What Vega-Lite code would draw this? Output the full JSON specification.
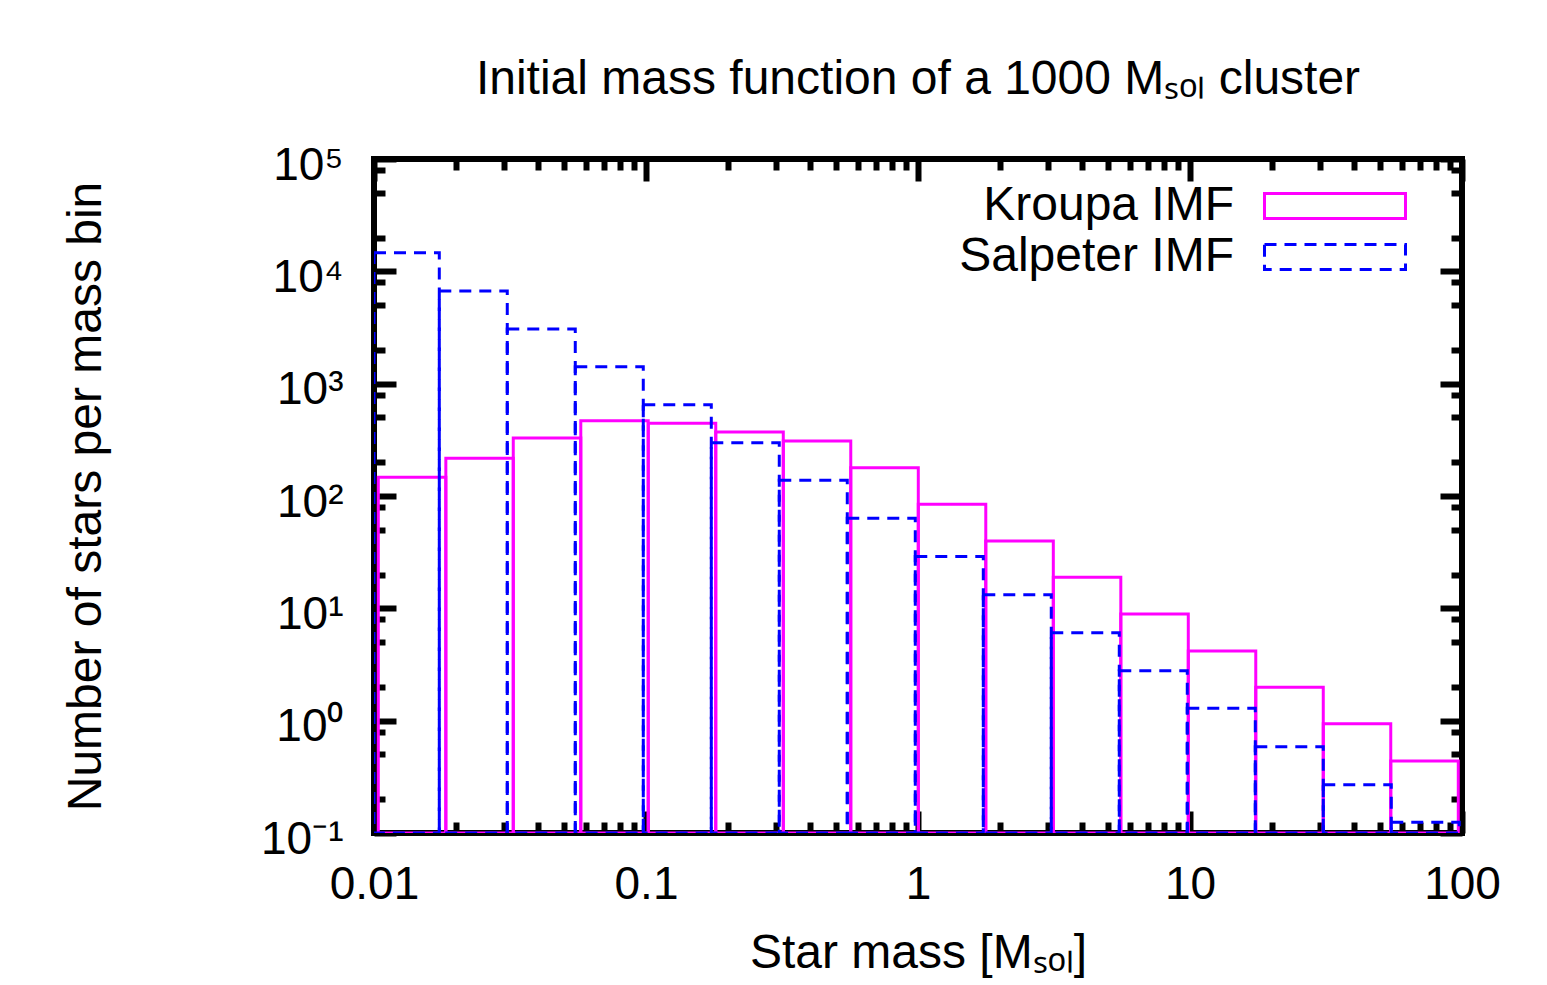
{
  "$schema": "https://vega.github.io/schema/vega-lite/v6.json",
  "autosize": {"type": "none"},
  "width": 1088,
  "height": 674,
  "padding": {"left": 374, "top": 159, "right": 85, "bottom": 152},
  "background": "white",
  "config": {
    "font": "Liberation Sans",
    "view": {"stroke": "black", "strokeWidth": 6},
    "axis": {
      "domain": false,
      "grid": false,
      "tickColor": "black",
      "tickWidth": 6,
      "labelFontSize": 46,
      "labelColor": "black",
      "titleFontSize": 48,
      "titleFontWeight": "normal",
      "titleColor": "black",
      "labelOverlap": false,
      "labelFlush": false
    }
  },
  "title": {
    "text": "Initial mass function of a 1000 Mₛₒₗ cluster",
    "fontSize": 48,
    "fontWeight": "normal",
    "anchor": "middle",
    "offset": 0,
    "baseline": "alphabetic",
    "color": "black"
  },
  "data": {
    "values": [
      {"imf": "Kroupa IMF", "lo": 0.01037, "hi": 0.01837, "n": 146.6},
      {"imf": "Kroupa IMF", "lo": 0.01837, "hi": 0.03251, "n": 216.6},
      {"imf": "Kroupa IMF", "lo": 0.03251, "hi": 0.05758, "n": 328},
      {"imf": "Kroupa IMF", "lo": 0.05758, "hi": 0.1019, "n": 468},
      {"imf": "Kroupa IMF", "lo": 0.1019, "hi": 0.1805, "n": 444},
      {"imf": "Kroupa IMF", "lo": 0.1805, "hi": 0.3197, "n": 371},
      {"imf": "Kroupa IMF", "lo": 0.3197, "hi": 0.566, "n": 309},
      {"imf": "Kroupa IMF", "lo": 0.566, "hi": 1.0025, "n": 178.6},
      {"imf": "Kroupa IMF", "lo": 1.0025, "hi": 1.775, "n": 84.3},
      {"imf": "Kroupa IMF", "lo": 1.775, "hi": 3.144, "n": 39.7},
      {"imf": "Kroupa IMF", "lo": 3.144, "hi": 5.567, "n": 18.9},
      {"imf": "Kroupa IMF", "lo": 5.567, "hi": 9.856, "n": 8.9},
      {"imf": "Kroupa IMF", "lo": 9.856, "hi": 17.45, "n": 4.17},
      {"imf": "Kroupa IMF", "lo": 17.45, "hi": 30.9, "n": 1.98},
      {"imf": "Kroupa IMF", "lo": 30.9, "hi": 54.71, "n": 0.94},
      {"imf": "Kroupa IMF", "lo": 54.71, "hi": 96.9, "n": 0.437},
      {"imf": "Salpeter IMF", "lo": 0.01, "hi": 0.01738, "n": 14650},
      {"imf": "Salpeter IMF", "lo": 0.01738, "hi": 0.0309, "n": 6680},
      {"imf": "Salpeter IMF", "lo": 0.0309, "hi": 0.05495, "n": 3070},
      {"imf": "Salpeter IMF", "lo": 0.05495, "hi": 0.09772, "n": 1416},
      {"imf": "Salpeter IMF", "lo": 0.09772, "hi": 0.1738, "n": 650},
      {"imf": "Salpeter IMF", "lo": 0.1738, "hi": 0.309, "n": 298},
      {"imf": "Salpeter IMF", "lo": 0.309, "hi": 0.5495, "n": 138},
      {"imf": "Salpeter IMF", "lo": 0.5495, "hi": 0.9772, "n": 63.3},
      {"imf": "Salpeter IMF", "lo": 0.9772, "hi": 1.738, "n": 29.0},
      {"imf": "Salpeter IMF", "lo": 1.738, "hi": 3.09, "n": 13.2},
      {"imf": "Salpeter IMF", "lo": 3.09, "hi": 5.495, "n": 6.07},
      {"imf": "Salpeter IMF", "lo": 5.495, "hi": 9.772, "n": 2.78},
      {"imf": "Salpeter IMF", "lo": 9.772, "hi": 17.38, "n": 1.29},
      {"imf": "Salpeter IMF", "lo": 17.38, "hi": 30.9, "n": 0.586},
      {"imf": "Salpeter IMF", "lo": 30.9, "hi": 54.95, "n": 0.269},
      {"imf": "Salpeter IMF", "lo": 54.95, "hi": 97.72, "n": 0.1245}
    ]
  },
  "layer": [
    {
      "mark": {"type": "bar", "filled": false, "strokeWidth": 3, "clip": true},
      "encoding": {
        "x": {
          "field": "lo",
          "type": "quantitative",
          "scale": {"type": "log", "domain": [0.01, 100], "nice": false},
          "axis": {
            "orient": "bottom",
            "values": [0.01,0.02,0.03,0.04,0.05,0.06,0.07,0.08,0.09,0.1,0.2,0.3,0.4,0.5,0.6,0.7,0.8,0.9,1,2,3,4,5,6,7,8,9,10,20,30,40,50,60,70,80,90,100],
            "labelExpr": "datum.value == 0.01 ? '0.01' : datum.value == 0.1 ? '0.1' : datum.value == 1 ? '1' : datum.value == 10 ? '10' : datum.value == 100 ? '100' : ''",
            "tickSize": {"condition": {"test": "datum.value == 0.01 || datum.value == 0.1 || datum.value == 1 || datum.value == 10 || datum.value == 100", "value": -22}, "value": -11},
            "labelPadding": 51,
            "title": "Star mass [Mₛₒₗ]",
            "titlePadding": 11
          }
        },
        "x2": {"field": "hi"},
        "y": {
          "field": "n",
          "type": "quantitative",
          "scale": {"type": "log", "domain": [0.1, 100000], "nice": false},
          "axis": {
            "orient": "left",
            "values": [0.1,0.2,0.5,0.8,1,2,5,8,10,20,50,80,100,200,500,800,1000,2000,5000,8000,10000,20000,50000,80000,100000],
            "labelExpr": "datum.value == 0.1 ? '10⁻¹' : datum.value == 1 ? '10⁰' : datum.value == 10 ? '10¹' : datum.value == 100 ? '10²' : datum.value == 1000 ? '10³' : datum.value == 10000 ? '10⁴' : datum.value == 100000 ? '10⁵' : ''",
            "tickSize": {"condition": {"test": "datum.value == 0.1 || datum.value == 1 || datum.value == 10 || datum.value == 100 || datum.value == 1000 || datum.value == 10000 || datum.value == 100000", "value": -22}, "value": -11},
            "labelPadding": 53,
            "labelOffset": 6,
            "title": "Number of stars per mass bin",
            "titlePadding": 150
          }
        },
        "y2": {"datum": 0.1},
        "stroke": {
          "field": "imf",
          "type": "nominal",
          "scale": {"domain": ["Kroupa IMF", "Salpeter IMF"], "range": ["#ff00ff", "#0000ff"]},
          "legend": {
            "orient": "none",
            "legendX": 934,
            "legendY": 20,
            "title": null,
            "padding": 0,
            "symbolType": "M-2.8,-0.5H2.8V0.5H-2.8Z",
            "symbolSize": 2536,
            "symbolStrokeWidth": 3,
            "labelFontSize": 48,
            "labelColor": "black",
            "labelAlign": "right",
            "labelOffset": -128,
            "labelLimit": 0,
            "rowPadding": 0
          }
        },
        "strokeDash": {
          "field": "imf",
          "type": "nominal",
          "scale": {"domain": ["Kroupa IMF", "Salpeter IMF"], "range": [[1, 0], [12, 8]]},
          "legend": {
            "orient": "none",
            "legendX": 934,
            "legendY": 20,
            "title": null,
            "padding": 0,
            "symbolType": "M-2.8,-0.5H2.8V0.5H-2.8Z",
            "symbolSize": 2536,
            "symbolStrokeWidth": 3,
            "labelFontSize": 48,
            "labelColor": "black",
            "labelAlign": "right",
            "labelOffset": -128,
            "labelLimit": 0,
            "rowPadding": 0
          }
        }
      }
    },
    {
      "mark": {"type": "bar", "filled": false, "opacity": 0},
      "encoding": {
        "x": {
          "field": "lo",
          "type": "quantitative",
          "axis": {
            "orient": "top",
            "values": [0.01,0.02,0.03,0.04,0.05,0.06,0.07,0.08,0.09,0.1,0.2,0.3,0.4,0.5,0.6,0.7,0.8,0.9,1,2,3,4,5,6,7,8,9,10,20,30,40,50,60,70,80,90,100],
            "labels": false,
            "tickSize": {"condition": {"test": "datum.value == 0.01 || datum.value == 0.1 || datum.value == 1 || datum.value == 10 || datum.value == 100", "value": -22}, "value": -11},
            "title": null
          }
        },
        "x2": {"field": "hi"},
        "y": {
          "field": "n",
          "type": "quantitative",
          "axis": {
            "orient": "right",
            "values": [0.1,0.2,0.5,0.8,1,2,5,8,10,20,50,80,100,200,500,800,1000,2000,5000,8000,10000,20000,50000,80000,100000],
            "labels": false,
            "tickSize": {"condition": {"test": "datum.value == 0.1 || datum.value == 1 || datum.value == 10 || datum.value == 100 || datum.value == 1000 || datum.value == 10000 || datum.value == 100000", "value": -22}, "value": -11},
            "title": null
          }
        },
        "y2": {"datum": 0.1}
      }
    }
  ]
}
